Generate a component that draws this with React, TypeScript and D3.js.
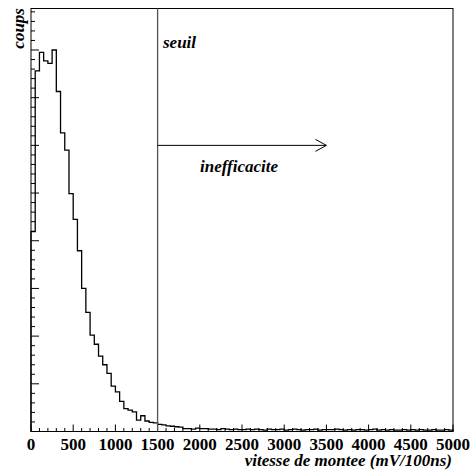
import React from "react";
import * as d3 from "d3";

const binWidth = 50;
const counts: number[] = [
  419, 756, 795, 777, 772, 800, 713, 626, 590, 499,
  445, 379, 300, 250, 202, 183, 158, 140, 122, 95,
  83, 63, 48, 45, 41, 24, 33, 22, 19, 18,
  15, 14, 12, 11, 10, 9, 6, 6, 5, 7,
  6, 6, 5, 5, 4, 6, 5, 4, 5, 4,
  4, 5, 4, 5, 4, 3, 5, 4, 4, 5,
  3, 4, 5, 4, 3, 4, 4, 5, 3, 4,
  4, 4, 5, 4, 3, 4, 3, 4, 4, 3,
  4, 5, 3, 4, 3, 4, 3, 3, 4, 3,
  4, 3, 4, 3, 3, 4, 3, 3, 4, 3,
];
const xTickLabels = [0, 500, 1000, 1500, 2000, 2500, 3000, 3500, 4000, 4500, 5000];
const threshold = 1500;
const arrowEnd = 3500;
const arrowLevel = 600;

const W = 472, H = 476;
const left = 31, right = 453, top = 8.5, bottom = 431.5;
const txt: React.CSSProperties = { fontFamily: "Liberation Serif, Times New Roman, Times, serif", fontWeight: 700 };
const itx: React.CSSProperties = { ...txt, fontStyle: "italic" };

export default function App() {
  const x = d3.scaleLinear().domain([0, 5000]).range([left, right]);
  const y = d3.scaleLinear().domain([0, 887]).range([bottom, top]);

  const pts: [number, number][] = [[x(0), y(0)]];
  counts.forEach((c, i) => {
    pts.push([x(i * binWidth), y(c)]);
    pts.push([x((i + 1) * binWidth), y(c)]);
  });
  pts.push([x(counts.length * binWidth), y(0)]);
  const path = d3.line()(pts) || "";

  const xMinor = d3.range(0, 5001, 100);
  const yMinor = d3.range(0, 887, 20);

  const ay = y(arrowLevel);
  const ax2 = x(arrowEnd);

  return (
    <svg width={W} height={H} style={{ position: "absolute", left: 0, top: 0, background: "#fff" }}>
      <rect x={0} y={0} width={W} height={H} fill="#fff" />
      <path d={path} fill="none" stroke="#000" strokeWidth={1.3} />
      {xMinor.map((v) => (
        <line key={"xt" + v} x1={x(v)} x2={x(v)} y1={bottom} y2={bottom - (v % 500 === 0 ? 7 : 3.5)} stroke="#000" strokeWidth={1} />
      ))}
      {yMinor.map((v) => (
        <line key={"yt" + v} x1={left} x2={left + (v % 100 === 0 ? 8 : 4)} y1={y(v)} y2={y(v)} stroke="#000" strokeWidth={1} />
      ))}
      <rect x={left} y={top} width={right - left} height={bottom - top} fill="none" stroke="#000" strokeWidth={1} />
      <line x1={x(threshold)} x2={x(threshold)} y1={top} y2={bottom} stroke="#555" strokeWidth={1.3} />
      <line x1={x(threshold)} x2={ax2} y1={ay} y2={ay} stroke="#000" strokeWidth={1} />
      <polyline points={`${ax2 - 11},${ay - 6} ${ax2},${ay} ${ax2 - 11},${ay + 6}`} fill="none" stroke="#000" strokeWidth={1} />
      {xTickLabels.map((v) => (
        <text key={"xl" + v} x={x(v)} y={450} textAnchor="middle" style={{ ...txt, fontSize: 17 }}>{v}</text>
      ))}
      <text x={452} y={466} textAnchor="end" style={{ ...itx, fontSize: 17 }}>vitesse de montee (mV/100ns)</text>
      <text transform={`translate(24,8) rotate(-90)`} textAnchor="end" style={{ ...itx, fontSize: 17 }}>coups</text>
      <text x={163} y={48} style={{ ...itx, fontSize: 17 }}>seuil</text>
      <text x={200} y={172} style={{ ...itx, fontSize: 17 }}>inefficacite</text>
    </svg>
  );
}
